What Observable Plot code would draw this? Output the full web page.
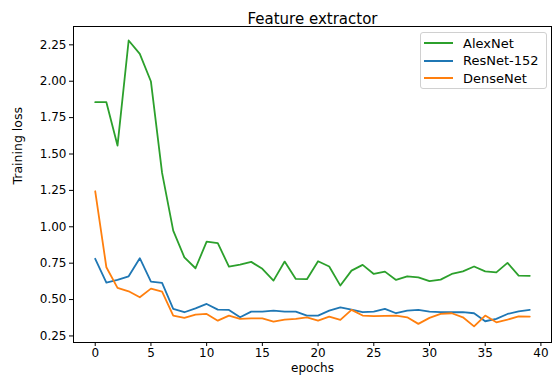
<!DOCTYPE html>
<html>
<head>
<meta charset="utf-8">
<script src="https://cdn.jsdelivr.net/npm/d3@7"></script>
<script src="https://cdn.jsdelivr.net/npm/@observablehq/plot@0.6"></script>
<style>
  html, body { margin: 0; padding: 0; background: #fff; }
  #wrap { position: relative; width: 556px; height: 379px; font-family: "DejaVu Sans", sans-serif; }
  #legend { position: absolute; left: 420px; top: 32px; width: 127px; height: 57px;
    border: 1px solid #d0d0d0; border-radius: 3px; background: rgba(255,255,255,0.8);
    font-size: 13px; color: #000; box-sizing: border-box; }
  .item { position: absolute; left: 3px; height: 16px; display: flex; align-items: center; }
  .sw { width: 29px; height: 0; border-top: 2px solid; margin-right: 10px; }
</style>
</head>
<body>
<div id="wrap"></div>
<script>
const title = "Feature extractor";
const xLabel = "epochs";
const yLabel = "Training loss";
const models = ["AlexNet", "ResNet-152", "DenseNet"];
const colors = ["#2ca02c", "#1f77b4", "#ff7f0e"];
const epochs = [0,1,2,3,4,5,6,7,8,9,10,11,12,13,14,15,16,17,18,19,20,21,22,23,24,25,26,27,28,29,30,31,32,33,34,35,36,37,38,39];
const alexnet = [1.856,1.856,1.558,2.280,2.188,1.998,1.37,0.974,0.790,0.715,0.898,0.887,0.727,0.740,0.759,0.711,0.630,0.761,0.642,0.640,0.763,0.727,0.596,0.699,0.738,0.676,0.692,0.635,0.660,0.653,0.626,0.637,0.676,0.694,0.727,0.694,0.687,0.752,0.665,0.663];
const resnet = [0.780,0.617,0.635,0.660,0.784,0.623,0.614,0.436,0.413,0.440,0.470,0.431,0.429,0.378,0.417,0.417,0.424,0.417,0.417,0.390,0.390,0.424,0.447,0.431,0.413,0.417,0.436,0.406,0.424,0.429,0.417,0.413,0.413,0.413,0.406,0.351,0.367,0.401,0.419,0.429];
const densenet = [1.244,0.722,0.580,0.557,0.516,0.575,0.555,0.390,0.374,0.397,0.401,0.355,0.390,0.367,0.371,0.371,0.349,0.362,0.367,0.378,0.355,0.383,0.360,0.429,0.390,0.386,0.388,0.390,0.378,0.333,0.374,0.401,0.406,0.378,0.316,0.390,0.344,0.362,0.385,0.383];
const xTicks = [0,5,10,15,20,25,30,35,40];
const yTicks = [0.25,0.50,0.75,1.00,1.25,1.50,1.75,2.00,2.25];

const series = [alexnet, resnet, densenet];
const rows = [];
series.forEach((vals, k) => vals.forEach((v, i) => rows.push({epoch: epochs[i], loss: v, model: models[k]})));

const chart = Plot.plot({
  width: 556,
  height: 379,
  marginLeft: 73,
  marginRight: 5,
  marginTop: 26,
  marginBottom: 37,
  style: {fontFamily: "DejaVu Sans, sans-serif", fontSize: "12px", color: "#000", background: "#fff"},
  x: {domain: [-1.95, 40.95]},
  y: {domain: [0.205, 2.376]},
  color: {domain: models, range: colors},
  marks: [
    Plot.line(rows, {x: "epoch", y: "loss", z: "model", stroke: "model", strokeWidth: 1.8, strokeLinejoin: "round"}),
    Plot.frame({stroke: "#000", strokeWidth: 1}),
    Plot.axisX({ticks: xTicks, tickSize: 4, tickPadding: 2, label: null, tickFormat: d => String(d)}),
    Plot.axisY({ticks: yTicks, tickSize: 4, tickPadding: 3, label: null, tickFormat: d3.format(".2f")}),
    Plot.text([title], {frameAnchor: "top", dy: -13, fontSize: 15, text: d => d}),
    Plot.text([xLabel], {frameAnchor: "bottom", dy: 29.5, fontSize: 12, text: d => d}),
    Plot.text([yLabel], {frameAnchor: "left", dx: -56, rotate: -90, fontSize: 12.5, text: d => d})
  ]
});
const wrap = document.getElementById("wrap");
wrap.appendChild(chart);

const legend = document.createElement("div");
legend.id = "legend";
models.forEach((m, k) => {
  const it = document.createElement("div");
  it.className = "item";
  it.style.top = (2 + k * 17.5) + "px";
  const sw = document.createElement("span");
  sw.className = "sw";
  sw.style.borderTopColor = colors[k];
  const tx = document.createElement("span");
  tx.textContent = m;
  it.appendChild(sw); it.appendChild(tx);
  legend.appendChild(it);
});
wrap.appendChild(legend);
</script>
</body>
</html>
